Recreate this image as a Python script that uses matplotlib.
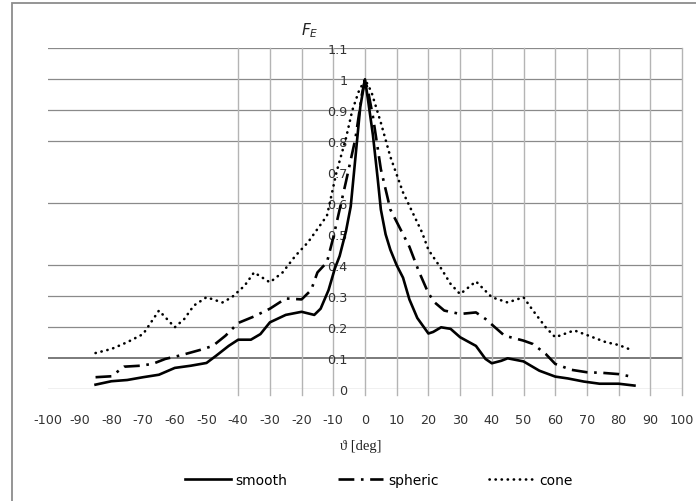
import numpy as np
import matplotlib
matplotlib.use('Agg')
import matplotlib.pyplot as plt
from matplotlib.patches import Rectangle

plt.rcParams['axes.unicode_minus'] = False
plt.rcParams['font.family'] = 'DejaVu Sans'

# Data
smooth_deg = [-85, -80, -75, -70, -65, -60, -55, -50, -47, -43, -40, -36, -33, -30, -25, -20,
              -16, -14, -11.5, -9.5, -8, -6, -4.5, -3, -1.5, 0, 1, 2.5, 4, 5, 6.5, 8, 10, 12,
              14, 16.5, 20, 21.5, 24, 27, 30, 35, 38, 40, 43, 45, 50, 55, 60, 64, 69, 74, 80, 85]
smooth_val = [0.015, 0.026, 0.03, 0.039, 0.047, 0.069, 0.076, 0.085, 0.108, 0.14, 0.16, 0.16,
              0.178, 0.216, 0.24, 0.25, 0.24, 0.26, 0.32, 0.39, 0.43, 0.51, 0.59, 0.75, 0.91,
              1.0, 0.93, 0.82, 0.68, 0.58, 0.50, 0.45, 0.40, 0.36, 0.29, 0.23, 0.18, 0.185,
              0.20, 0.195, 0.168, 0.14, 0.098, 0.084, 0.092, 0.10, 0.09, 0.06, 0.041, 0.035,
              0.025, 0.018, 0.018, 0.012]

spheric_deg = [-85, -80, -76, -71, -67, -63, -58, -52, -48, -44, -40, -35, -30, -25, -20, -17,
               -15, -12, -10, -8, -6, -3, -1, 0, 1, 2.5, 5, 8, 11, 14, 17, 20, 22, 25, 30, 35,
               38, 44, 50, 53, 57, 60, 65, 70, 75, 80, 84]
spheric_val = [0.039, 0.042, 0.073, 0.076, 0.082, 0.098, 0.11, 0.127, 0.14, 0.173, 0.214, 0.235,
               0.26, 0.293, 0.29, 0.32, 0.377, 0.41, 0.49, 0.58, 0.67, 0.81, 0.95, 1.0, 0.96,
               0.88, 0.71, 0.58, 0.52, 0.46, 0.38, 0.31, 0.28, 0.254, 0.243, 0.248, 0.227,
               0.173, 0.157, 0.146, 0.114, 0.082, 0.063, 0.055, 0.053, 0.049, 0.041]

cone_deg = [-85, -80, -75, -70, -65, -60, -57, -54, -50, -45, -42, -38, -35, -30, -26, -22, -18,
            -12, -9, -6, -4, -2, 0, 2, 5, 8, 12, 18, 20, 24, 27, 30, 35, 40, 45, 50, 53, 57,
            60, 66, 70, 76, 80, 84]
cone_val = [0.117, 0.13, 0.152, 0.178, 0.254, 0.20, 0.227, 0.27, 0.297, 0.28, 0.297, 0.334,
            0.377, 0.345, 0.377, 0.43, 0.474, 0.56, 0.70, 0.81, 0.90, 0.96, 1.0, 0.96, 0.86,
            0.75, 0.635, 0.506, 0.45, 0.39, 0.34, 0.307, 0.348, 0.297, 0.28, 0.297, 0.254,
            0.20, 0.168, 0.19, 0.175, 0.152, 0.143, 0.127]

x_ticks = list(range(-100, 101, 10))
y_ticks = [0, 0.1, 0.2, 0.3, 0.4, 0.5, 0.6, 0.7, 0.8, 0.9, 1, 1.1]
y_tick_labels = ['0', '0.1', '0.2', '0.3', '0.4', '0.5', '0.6', '0.7', '0.8', '0.9', '1', '1.1']
# gridlines that are actually visible in the reference
h_grid = [0.2, 0.3, 0.4, 0.6, 0.8, 0.9, 1.0, 1.1]
v_grid = list(range(-40, 101, 10))

fig = plt.figure(figsize=(6.96, 5.02), dpi=100)
ax = fig.add_axes([48 / 696, (502 - 390.3) / 502, 634 / 696, 341 / 502])

# outer chart frame
fig.patches.append(Rectangle((12 / 696, -0.1), 1.2, 1.1 - 4 / 502, transform=fig.transFigure,
                             fill=False, edgecolor='#8c8c8c', lw=1.3, clip_on=False))

for y in h_grid:
    ax.plot([-100, 100], [y, y], color='#8a8a8a', lw=0.9, zorder=1)
ax.plot([-100, 100], [0.1, 0.1], color='#7a7a7a', lw=1.4, zorder=1)
ax.plot([-100, 100], [0, 0], color='#8a8a8a', lw=0.9, zorder=1)
for x in v_grid:
    ax.plot([x, x], [-0.018, 1.1], color='#b4b4b4', lw=1.0, zorder=1, clip_on=False)

ax.plot(smooth_deg, smooth_val, color='black', lw=1.9, label='smooth', zorder=3)
ax.plot(spheric_deg, spheric_val, color='black', lw=1.9, ls=(0, (6, 2.5, 1, 2.5)),
        label='spheric', zorder=3)
ax.plot(cone_deg, cone_val, color='black', lw=1.9, ls=(0, (0.1, 2.2)),
        dash_capstyle='round', label='cone', zorder=3)

ax.set_xlim(-100, 100)
ax.set_ylim(0, 1.1)
for s in ax.spines.values():
    s.set_visible(False)
ax.spines['left'].set_position(('data', 0))

ax.set_xticks(x_ticks)
ax.set_xticklabels([str(v) for v in x_ticks])
ax.set_yticks(y_ticks)
ax.set_yticklabels(y_tick_labels)
ax.tick_params(axis='x', length=0, pad=17, labelsize=9.2, labelcolor='#333333')
ax.tick_params(axis='y', length=0, pad=12.5, labelsize=9.2, labelcolor='#333333')
for lab in ax.get_yticklabels():
    lab.set_zorder(2)

fig.text(310 / 696, 1 - 31 / 502, r'$F_E$', fontsize=11, ha='center', va='center',
         color='#222222')
fig.text(361 / 696, 1 - 447 / 502, 'ϑ [deg]', fontsize=10.5, ha='center', va='center',
         family=['Liberation Serif', 'DejaVu Serif'], color='#222222')

fig.legend(loc='center', bbox_to_anchor=(379 / 696, 1 - 481 / 502), ncol=3, frameon=False,
           fontsize=10, handlelength=3.3, handletextpad=0.35, columnspacing=3.6)

fig.savefig('out.png', dpi=100)
